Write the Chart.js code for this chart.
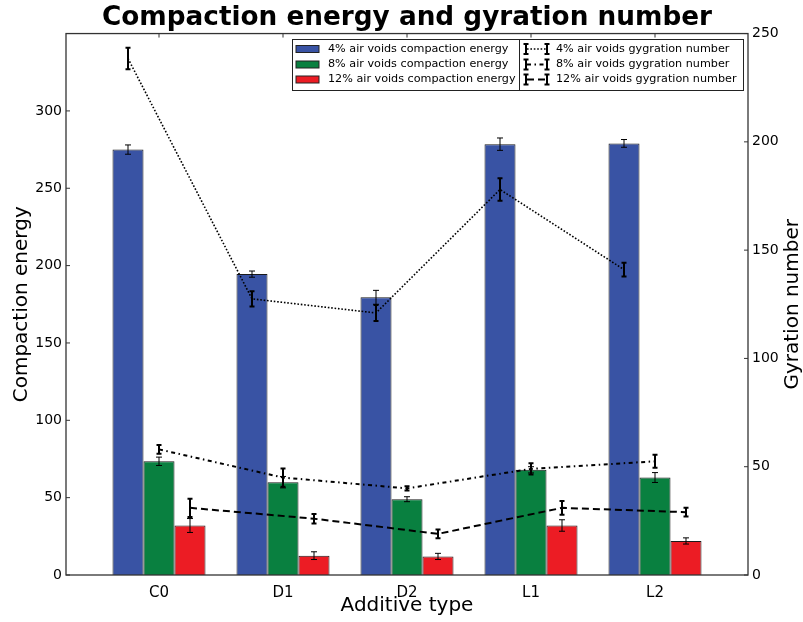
<!DOCTYPE html>
<html>
<head>
<meta charset="utf-8">
<script src="https://cdn.jsdelivr.net/npm/chart.js@4"></script>
<style>
  html, body { margin: 0; padding: 0; background: #fff; }
</style>
</head>
<body>
<canvas id="chart" width="803" height="622"></canvas>
<script>
// additive types on the x axis
const categories = ['C0', 'D1', 'D2', 'L1', 'L2'];

// compaction energy (left axis)
const energy4 = [275, 194.5, 179.5, 278.5, 279];
const energy4Err = [3, 2, 4.5, 4, 2.5];
const energy8 = [73.5, 60, 49, 68, 63];
const energy8Err = [2.7, 3.7, 1.6, 2, 3.2];
const energy12 = [32, 12.5, 12, 32, 22];
const energy12Err = [4.5, 2.5, 2, 3.7, 2];

// gyration number (right axis)
const gyr4 = [238.5, 127.5, 121, 178, 141];
const gyr4Err = [5, 3.5, 3.7, 5.2, 3.2];
const gyr8 = [58, 45, 40, 49, 52.5];
const gyr8Err = [2, 4.2, 1, 2.6, 3];
const gyr12 = [31, 26, 19, 31, 29];
const gyr12Err = [4.2, 2.2, 2, 3.2, 2];

const leftTicks = [0, 50, 100, 150, 200, 250, 300];
const rightTicks = [0, 50, 100, 150, 200, 250];

const FONT = "'DejaVu Sans', 'Bitstream Vera Sans', sans-serif";
Chart.defaults.font.family = FONT;
Chart.defaults.color = '#000';

const groupWidth = 0.75; // share of each category taken by the 3 bars
const nBars = 3;
// line points sit on the centre of the matching bar
const slot = k => (k - (nBars - 1) / 2) * groupWidth / nBars;

const pts = (arr, k) => arr.map((v, i) => ({ x: i + slot(k), y: v }));
const barPts = arr => arr.map((v, i) => ({ x: i, y: v }));

const barStyle = (label, arr, err, color) => ({
  type: 'bar', label, data: barPts(arr), errors: err, errWidth: 1, cap: 3,
  backgroundColor: color, borderColor: '#1a1a1a', borderWidth: 1,
  yAxisID: 'y', order: 2
});
const lineStyle = (label, arr, err, k, dash) => ({
  type: 'line', label, data: pts(arr, k), errors: err, errWidth: 2, cap: 2.5,
  borderColor: '#000', borderWidth: dash.w, borderDash: dash.d,
  pointRadius: 0, fill: false, tension: 0, yAxisID: 'y2', order: 1
});

const blue = '#3953a4', green = '#098040', red = '#ec1c24';

const datasets = [
  barStyle('4% air voids compaction energy', energy4, energy4Err, blue),
  barStyle('8% air voids compaction energy', energy8, energy8Err, green),
  barStyle('12% air voids compaction energy', energy12, energy12Err, red),
  lineStyle('4% air voids gygration number', gyr4, gyr4Err, 0, { w: 1.6, d: [1.6, 1.8] }),
  lineStyle('8% air voids gygration number', gyr8, gyr8Err, 1, { w: 2, d: [4, 3.5, 1.5, 3.5] }),
  lineStyle('12% air voids gygration number', gyr12, gyr12Err, 2, { w: 2, d: [7, 4] })
];

const errorBars = {
  id: 'errorBars',
  afterDatasetsDraw(chart) {
    const ctx = chart.ctx;
    chart.data.datasets.forEach((ds, di) => {
      if (!ds.errors) return;
      const meta = chart.getDatasetMeta(di);
      const scale = chart.scales[meta.yAxisID];
      ctx.save();
      ctx.strokeStyle = '#000';
      ctx.lineWidth = ds.errWidth;
      meta.data.forEach((el, i) => {
        const v = ds.data[i].y, e = ds.errors[i];
        const x = el.x;
        const lo = scale.getPixelForValue(v - e), hi = scale.getPixelForValue(v + e);
        ctx.beginPath();
        ctx.moveTo(x, lo); ctx.lineTo(x, hi);
        ctx.moveTo(x - ds.cap, lo); ctx.lineTo(x + ds.cap, lo);
        ctx.moveTo(x - ds.cap, hi); ctx.lineTo(x + ds.cap, hi);
        ctx.stroke();
      });
      ctx.restore();
    });
  }
};

const frame = {
  id: 'frame',
  afterDraw(chart) {
    const { ctx, chartArea: a, scales } = chart;
    ctx.save();
    ctx.strokeStyle = '#333';
    ctx.lineWidth = 1.3;
    ctx.strokeRect(a.left, a.top, a.right - a.left, a.bottom - a.top);
    ctx.lineWidth = 1;
    ctx.beginPath();
    scales.y.ticks.forEach(t => {
      const y = scales.y.getPixelForValue(t.value);
      ctx.moveTo(a.left, y); ctx.lineTo(a.left + 4, y);
    });
    scales.y2.ticks.forEach(t => {
      const y = scales.y2.getPixelForValue(t.value);
      ctx.moveTo(a.right, y); ctx.lineTo(a.right - 4, y);
    });
    scales.x.ticks.forEach(t => {
      const x = scales.x.getPixelForValue(t.value);
      ctx.moveTo(x, a.top); ctx.lineTo(x, a.top + 4);
    });
    ctx.stroke();

    // right axis title, read bottom to top
    ctx.fillStyle = '#000';
    ctx.font = '20px ' + FONT;
    ctx.textAlign = 'center';
    ctx.textBaseline = 'middle';
    ctx.translate(793, (a.top + a.bottom) / 2);
    ctx.rotate(-Math.PI / 2);
    ctx.fillText('Gyration number', 0, 0);
    ctx.restore();
  }
};

const legendBox = {
  id: 'legendBox',
  afterDraw(chart) {
    const ctx = chart.ctx;
    const ds = chart.data.datasets;
    const box = { x: 292, y: 39, w: 451, h: 51, split: 519 };
    const rows = [49, 64.5, 79.5];
    ctx.save();
    ctx.fillStyle = '#fff';
    ctx.fillRect(box.x, box.y, box.w, box.h);
    ctx.strokeStyle = '#222';
    ctx.lineWidth = 1;
    ctx.strokeRect(box.x + 0.5, box.y + 0.5, box.w, box.h);
    ctx.beginPath();
    ctx.moveTo(box.split + 0.5, box.y); ctx.lineTo(box.split + 0.5, box.y + box.h);
    ctx.stroke();
    ctx.font = '11.2px ' + FONT;
    ctx.textBaseline = 'middle';
    for (let r = 0; r < 3; r++) {
      const bar = ds[r], line = ds[r + 3], y = rows[r];
      ctx.fillStyle = bar.backgroundColor;
      ctx.fillRect(296, y - 3.5, 23, 7);
      ctx.strokeStyle = '#222';
      ctx.lineWidth = 1;
      ctx.strokeRect(296, y - 3.5, 23, 7);
      ctx.fillStyle = '#000';
      ctx.fillText(bar.label, 328, y);

      ctx.strokeStyle = '#000';
      ctx.lineWidth = 2;
      [526, 547].forEach(x => {
        ctx.beginPath();
        ctx.moveTo(x, y - 5); ctx.lineTo(x, y + 5);
        ctx.moveTo(x - 2.5, y - 5); ctx.lineTo(x + 2.5, y - 5);
        ctx.moveTo(x - 2.5, y + 5); ctx.lineTo(x + 2.5, y + 5);
        ctx.stroke();
      });
      ctx.lineWidth = line.borderWidth;
      ctx.setLineDash(line.borderDash);
      ctx.beginPath();
      ctx.moveTo(527, y); ctx.lineTo(546, y);
      ctx.stroke();
      ctx.setLineDash([]);
      ctx.fillText(line.label, 556, y);
    }
    ctx.restore();
  }
};

new Chart(document.getElementById('chart'), {
  type: 'bar',
  data: { datasets },
  options: {
    responsive: false,
    animation: false,
    events: [],
    layout: { padding: 0 },
    datasets: { bar: { barPercentage: 1, categoryPercentage: groupWidth } },
    plugins: {
      legend: { display: false },
      tooltip: { enabled: false },
      title: {
        display: true,
        text: 'Compaction energy and gyration number',
        font: { size: 26.3, weight: 'bold' },
        color: '#000',
        padding: { top: 2, bottom: 0 },
        fullSize: false
      }
    },
    scales: {
      x: {
        type: 'linear',
        offset: false,
        min: -0.75,
        max: 4.75,
        grid: { display: false, drawTicks: false },
        border: { display: false },
        afterBuildTicks: s => { s.ticks = categories.map((c, i) => ({ value: i })); },
        afterFit: s => { s.height = 47; },
        ticks: {
          font: { size: 15 },
          padding: 9,
          callback: v => categories[v]
        },
        title: { display: true, text: 'Additive type', font: { size: 20 }, padding: { top: 0, bottom: 4 } }
      },
      y: {
        position: 'left',
        min: 0,
        max: 350,
        grid: { display: false, drawTicks: false },
        border: { display: false },
        afterBuildTicks: s => { s.ticks = leftTicks.map(v => ({ value: v })); },
        afterFit: s => { s.width = 66; },
        ticks: { font: { size: 14 }, padding: 4 },
        title: { display: true, text: 'Compaction energy', font: { size: 20 }, padding: { top: 10, bottom: 0 } }
      },
      y2: {
        position: 'right',
        min: 0,
        max: 250,
        grid: { display: false, drawTicks: false },
        border: { display: false },
        afterBuildTicks: s => { s.ticks = rightTicks.map(v => ({ value: v })); },
        afterFit: s => { s.width = 55; },
        ticks: { font: { size: 14 }, padding: 4 }
      }
    }
  },
  plugins: [errorBars, frame, legendBox]
});
</script>
</body>
</html>
